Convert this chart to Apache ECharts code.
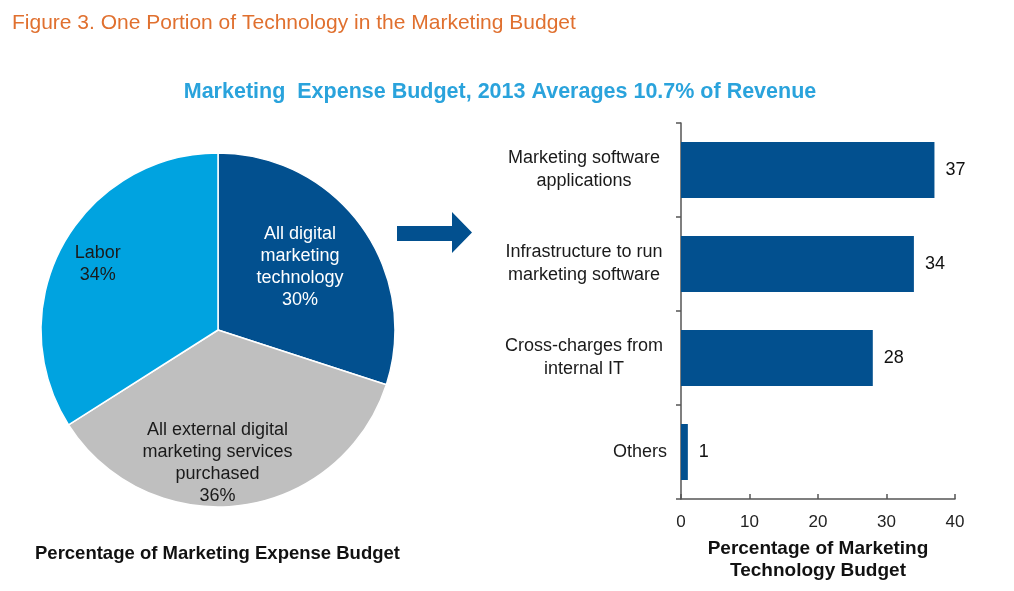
<!DOCTYPE html>
<html>
<head>
<meta charset="utf-8">
<script src="https://cdn.jsdelivr.net/npm/echarts@6/dist/echarts.min.js"></script>
<style>
  html, body { margin: 0; padding: 0; background: #ffffff; }
  #main { width: 1014px; height: 591px; }
</style>
</head>
<body>
<div id="main"></div>
<script type="text/javascript">

// pie: share of the marketing expense budget (clockwise from 12 o'clock)
var pieNames = ['All digital\nmarketing\ntechnology', 'All external digital\nmarketing services\npurchased', 'Labor'];
var pieValues = [30, 36, 34];

// bars: share of the marketing technology budget (top to bottom)
var barCategories = ['Marketing software\napplications', 'Infrastructure to run\nmarketing software', 'Cross-charges from\ninternal IT', 'Others'];
var barValues = [37, 34, 28, 1];

var xTicks = [0, 10, 20, 30, 40];

var darkBlue = '#02508f';
var lightBlue = '#00a3e0';
var grey = '#bfbfbf';
var font = '"Liberation Sans", Arial, sans-serif';

var pieColors = [darkBlue, grey, lightBlue];
var pieLabelColors = ['#ffffff', '#1a1a1a', '#1a1a1a'];
var pieLabelOffsets = [[8, -9], [-12, 42], [-40, -22]];

var pieData = [];
for (var i = 0; i < pieNames.length; i++) {
    pieData.push({
        name: pieNames[i],
        value: pieValues[i],
        itemStyle: { color: pieColors[i] },
        label: { color: pieLabelColors[i], offset: pieLabelOffsets[i] }
    });
}

var chart = echarts.init(document.getElementById('main'));

var option = {
    backgroundColor: '#ffffff',
    animation: false,
    title: [{
        text: 'Figure 3. One Portion of Technology in the Marketing Budget',
        left: 12, top: 13, padding: 0,
        textStyle: { color: '#e0702f', fontSize: 21, fontWeight: 'normal', fontFamily: font }
    }, {
        text: 'Marketing  Expense Budget, 2013 Averages 10.7% of Revenue',
        left: 500, top: 81, padding: 0, textAlign: 'center',
        textStyle: { color: '#2aa3dc', fontSize: 21.5, fontWeight: 'bold', fontFamily: font }
    }, {
        text: 'Percentage of Marketing Expense Budget',
        left: 35, top: 544, padding: 0,
        textStyle: { color: '#111111', fontSize: 18.5, fontWeight: 'bold', fontFamily: font }
    }],
    grid: { left: 681, right: 59, top: 123, bottom: 92 },
    xAxis: {
        type: 'value',
        min: 0, max: 40, interval: 10,
        name: 'Percentage of Marketing\nTechnology Budget',
        nameLocation: 'middle',
        nameGap: 39,
        nameTextStyle: { color: '#111111', fontSize: 19, fontWeight: 'bold', fontFamily: font, lineHeight: 22 },
        axisLine: { show: true, lineStyle: { color: '#555555', width: 1.5 } },
        axisTick: { show: true, inside: true, length: 5, lineStyle: { color: '#555555', width: 1.5 } },
        axisLabel: {
            color: '#222222', fontSize: 17, fontFamily: font, margin: 15,
            formatter: function (v) { return xTicks.indexOf(v) >= 0 ? String(v) : ''; }
        },
        splitLine: { show: false }
    },
    yAxis: {
        type: 'category',
        inverse: true,
        data: barCategories,
        axisLine: { show: true, lineStyle: { color: '#555555', width: 1.5 } },
        axisTick: { show: true, length: 5, lineStyle: { color: '#555555', width: 1.5 } },
        axisLabel: {
            align: 'center',
            margin: 97,
            formatter: function (v) {
                var style = v === 'Others' ? 'r' : 'c';
                return v.split('\n').map(function (s) { return '{' + style + '|' + s + '}'; }).join('\n');
            },
            rich: {
                c: { color: '#1a1a1a', fontSize: 18, fontFamily: font, lineHeight: 23 },
                r: { width: 166, align: 'right', color: '#1a1a1a', fontSize: 18, fontFamily: font, lineHeight: 23 }
            }
        }
    },
    series: [{
        type: 'pie',
        center: [218, 330],
        radius: 177,
        startAngle: 90,
        clockwise: true,
        silent: true,
        data: pieData,
        itemStyle: { borderColor: '#ffffff', borderWidth: 1.5 },
        label: {
            show: true,
            position: 'inside',
            formatter: '{b}\n{c}%',
            fontSize: 18,
            lineHeight: 22,
            fontFamily: font
        },
        labelLine: { show: false }
    }, {
        type: 'bar',
        data: barValues,
        barWidth: 56,
        itemStyle: { color: darkBlue },
        label: {
            show: true,
            position: 'right',
            distance: 11,
            color: '#111111',
            fontSize: 18,
            fontFamily: font
        }
    }],
    graphic: [{
        type: 'polygon',
        shape: { points: [[397, 226], [452, 226], [452, 212], [472, 232.5], [452, 253], [452, 241], [397, 241]] },
        style: { fill: darkBlue }
    }]
};

chart.setOption(option);
</script>
</body>
</html>
